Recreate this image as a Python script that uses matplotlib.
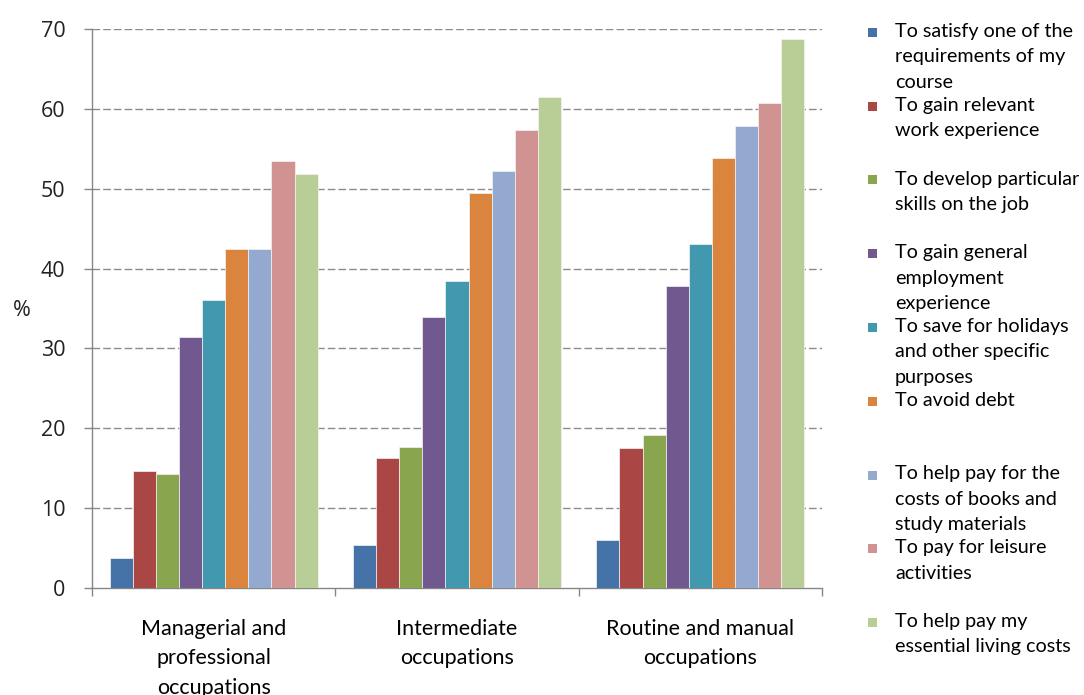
import numpy as np
import matplotlib
matplotlib.use("Agg")
import matplotlib.pyplot as plt
from matplotlib.patches import Rectangle

# Occupation groups on the x axis
categories = ["Managerial and\nprofessional\noccupations",
              "Intermediate\noccupations",
              "Routine and manual\noccupations"]

# Reasons for working during study (legend entries, wrapped as displayed)
reasons = [
    "To satisfy one of the\nrequirements of my\ncourse",
    "To gain relevant\nwork experience",
    "To develop particular\nskills on the job",
    "To gain general\nemployment\nexperience",
    "To save for holidays\nand other specific\npurposes",
    "To avoid debt",
    "To help pay for the\ncosts of books and\nstudy materials",
    "To pay for leisure\nactivities",
    "To help pay my\nessential living costs",
]

# Percentages per reason, one value per occupation group
satisfy_course = [3.8, 5.4, 6.0]
relevant_experience = [14.6, 16.3, 17.5]
particular_skills = [14.3, 17.7, 19.2]
general_experience = [31.4, 33.9, 37.8]
save_holidays = [36.1, 38.5, 43.1]
avoid_debt = [42.5, 49.5, 53.8]
books_materials = [42.5, 52.2, 57.9]
leisure = [53.5, 57.4, 60.7]
living_costs = [51.9, 61.5, 68.8]

series = [satisfy_course, relevant_experience, particular_skills,
          general_experience, save_holidays, avoid_debt,
          books_materials, leisure, living_costs]

colors = ["#4572A7", "#AA4643", "#89A54E", "#71588F", "#4198AF",
          "#DB843D", "#93A9CF", "#D19392", "#B9CD96"]

yticks = [0, 10, 20, 30, 40, 50, 60, 70]

W, H = 1084, 695
fig = plt.figure(figsize=(W / 100, H / 100), dpi=100)
ax = fig.add_axes([92 / W, 1 - 588 / H, (822 - 92) / W, (588 - 29) / H])

n = len(series)
bar_w = 0.855 / n
x = np.arange(len(categories))
for i, (vals, col) in enumerate(zip(series, colors)):
    offs = (i - (n - 1) / 2) * bar_w
    ax.bar(x + offs, vals, width=bar_w, color=col, edgecolor="#F4F4F4",
           linewidth=0.5, zorder=3)

ax.set_xlim(-0.5, len(categories) - 0.5)
ax.set_ylim(0, 70)

# dashed horizontal gridlines
for v in yticks[1:]:
    ax.axhline(v, color="#8C8C8C", linewidth=1.0,
               linestyle=(0, (5.5, 2.2)), zorder=1)

for s in ["top", "right"]:
    ax.spines[s].set_visible(False)
for s in ["left", "bottom"]:
    ax.spines[s].set_color("#868686")
    ax.spines[s].set_linewidth(1.0)

ax.set_yticks(yticks)
ax.set_yticklabels([str(v) for v in yticks], fontfamily="Open Sans",
                   fontsize=15.5, color="#222222")
ax.tick_params(axis="y", direction="out", length=6, color="#868686",
               width=1.0, pad=13)

# category ticks sit on the group boundaries; labels at group centres
ax.set_xticks(np.arange(-0.5, len(categories)), minor=False)
ax.set_xticklabels([])
ax.tick_params(axis="x", direction="out", length=6, color="#868686",
               width=1.0)
for xi, lab in zip(x, categories):
    ax.text(xi, -3.85, lab, ha="center", va="top", fontfamily="Lato",
            fontsize=15.5, linespacing=1.6, color="#000000")

fig.text(22 / W, 1 - 310 / H, "%", ha="center", va="center",
         fontfamily="Open Sans", fontsize=15.5, color="#222222")

# legend drawn in figure pixels
step = 73.75
for i, (lab, col) in enumerate(zip(reasons, colors)):
    yc = 32 + i * step
    fig.patches.append(Rectangle((868 / W, 1 - (yc + 5) / H), 9 / W, 9 / H,
                                 transform=fig.transFigure,
                                 facecolor=col, edgecolor="none"))
    fig.text(895 / W, 1 - (yc - 9) / H, lab, ha="left", va="top",
             fontfamily="Lato", fontsize=14.2, linespacing=1.6,
             color="#000000")

fig.savefig("out.png", dpi=100)
